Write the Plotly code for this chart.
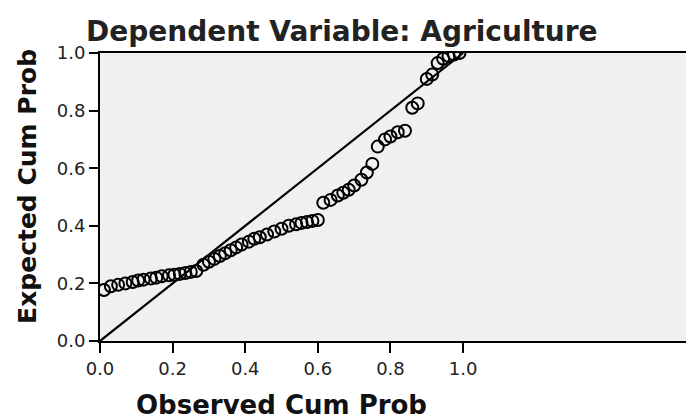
import plotly.graph_objects as go

# P-P plot of regression standardized residual, dependent variable Agriculture
observed_cum_prob = [
    0.011, 0.03, 0.05, 0.07, 0.09, 0.105, 0.12, 0.14, 0.155, 0.17, 0.19, 0.205,
    0.22, 0.235, 0.25, 0.265,
    0.285, 0.3, 0.315, 0.33, 0.345, 0.36, 0.375, 0.39, 0.41, 0.425, 0.44, 0.46,
    0.48, 0.5, 0.52, 0.54, 0.555, 0.57, 0.585, 0.6,
    0.615, 0.635, 0.655, 0.67, 0.685, 0.7, 0.72, 0.735, 0.75, 0.765, 0.785, 0.8,
    0.82, 0.84, 0.86, 0.875, 0.9, 0.915, 0.93, 0.945, 0.96, 0.975, 0.99,
]
expected_cum_prob = [
    0.177, 0.19, 0.195, 0.2, 0.205, 0.21, 0.213, 0.217, 0.22, 0.225, 0.228, 0.23,
    0.233, 0.236, 0.24, 0.243,
    0.265, 0.275, 0.285, 0.295, 0.305, 0.315, 0.325, 0.335, 0.345, 0.355, 0.36,
    0.37, 0.38, 0.39, 0.4, 0.405, 0.41, 0.413, 0.417, 0.42,
    0.48, 0.49, 0.505, 0.515, 0.525, 0.54, 0.56, 0.585, 0.615, 0.675, 0.7, 0.71,
    0.725, 0.73, 0.81, 0.825, 0.91, 0.925, 0.965, 0.98, 0.99, 0.995, 1.0,
]
reference_line = [0.0, 1.0]
tick_values = [0.0, 0.2, 0.4, 0.6, 0.8, 1.0]

FONT = "DejaVu Sans, Arial, sans-serif"

fig = go.Figure()
fig.add_trace(
    go.Scatter(
        x=reference_line,
        y=reference_line,
        mode="lines",
        line=dict(color="black", width=2.2),
        hoverinfo="skip",
    )
)
fig.add_trace(
    go.Scatter(
        x=observed_cum_prob,
        y=expected_cum_prob,
        mode="markers",
        marker=dict(symbol="circle-open", size=12, color="black", line=dict(width=2)),
    )
)

# the page body adds an 8px offset, so the margins are trimmed by 8px
fig.update_layout(
    width=694,
    height=419,
    margin=dict(l=92, r=0, t=45, b=86),
    paper_bgcolor="white",
    plot_bgcolor="#f0f0f0",
    showlegend=False,
    font=dict(family=FONT, color="#222222", size=18),
    title=dict(
        text="<b>Dependent Variable: Agriculture</b>",
        x=0.481,
        xanchor="center",
        y=0.945,
        yanchor="middle",
        font=dict(size=28, family=FONT, color="#222222"),
    ),
    xaxis=dict(
        range=[0, 1.658],
        tickvals=tick_values,
        ticktext=[f"{v:.1f}" for v in tick_values],
        ticks="outside",
        ticklen=10,
        tickwidth=2,
        tickcolor="black",
        showline=True,
        linecolor="black",
        linewidth=2,
        mirror=True,
        showgrid=False,
        zeroline=False,
    ),
    yaxis=dict(
        range=[0, 1],
        tickvals=tick_values,
        ticktext=[f"{v:.1f}" for v in tick_values],
        ticks="outside",
        ticklen=9,
        tickwidth=2,
        tickcolor="black",
        showline=True,
        linecolor="black",
        linewidth=2,
        showgrid=False,
        zeroline=False,
    ),
)

fig.add_annotation(
    text="<b>Observed Cum Prob</b>",
    xref="paper",
    yref="paper",
    x=0.301,
    y=-0.222,
    xanchor="center",
    yanchor="middle",
    showarrow=False,
    font=dict(size=26, family=FONT, color="#111111"),
)
fig.add_annotation(
    text="<b>Expected Cum Prob</b>",
    xref="paper",
    yref="paper",
    x=-0.1196,
    y=0.535,
    xanchor="center",
    yanchor="middle",
    textangle=-90,
    showarrow=False,
    font=dict(size=25, family=FONT, color="#111111"),
)

fig.write_html("out.html")
